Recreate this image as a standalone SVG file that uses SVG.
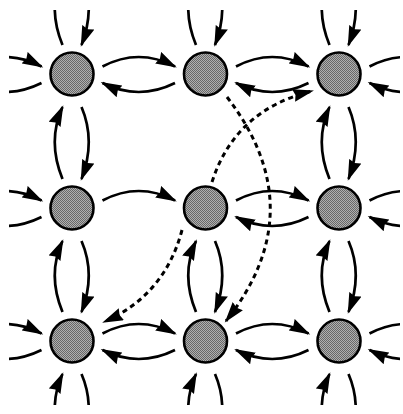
<svg xmlns="http://www.w3.org/2000/svg" width="403" height="414" viewBox="0 0 403 414">
<style>
.arc{fill:none;stroke:#000;stroke-width:2.7;marker-end:url(#ah)}
.dash{fill:none;stroke:#000;stroke-width:3;stroke-dasharray:5 4;marker-end:url(#ah)}
.node{fill:url(#dither);stroke:#000;stroke-width:2.6}
</style>
<defs>
<pattern id="dither" width="2" height="2" patternUnits="userSpaceOnUse">
<rect width="2" height="2" fill="#b0b0b0"/>
<rect width="1" height="1" fill="#686868"/>
<rect x="1" y="1" width="1" height="1" fill="#686868"/>
</pattern>
<marker id="ah" markerUnits="userSpaceOnUse" markerWidth="23" markerHeight="14" refX="19" refY="6.5" orient="auto" viewBox="0 0 23 14">
<path d="M0,0 L21,6.5 L0,13 L2,6.5 Z" fill="#000"/>
</marker>
<clipPath id="frame"><rect x="9" y="10" width="391" height="395"/></clipPath>
</defs>
<g id="connectors" clip-path="url(#frame)">
<path class="arc" d="M-31,66.5 Q5.25,47.5 41.5,66.5"/>
<path class="arc" d="M41.5,83 Q5.25,101 -31,83"/>
<path class="arc" d="M102.5,66.5 Q138.75,47.5 175,66.5"/>
<path class="arc" d="M175,83 Q138.75,101 102.5,83"/>
<path class="arc" d="M236,66.5 Q272.25,47.5 308.5,66.5"/>
<path class="arc" d="M308.5,83 Q272.25,101 236,83"/>
<path class="arc" d="M369.5,66.5 Q405.75,47.5 442,66.5"/>
<path class="arc" d="M442,83 Q405.75,101 369.5,83"/>
<path class="arc" d="M-31,200.5 Q5.25,181.5 41.5,200.5"/>
<path class="arc" d="M41.5,217 Q5.25,235 -31,217"/>
<path class="arc" d="M102.5,200.5 Q138.75,181.5 175,200.5"/>
<path class="arc" d="M236,200.5 Q272.25,181.5 308.5,200.5"/>
<path class="arc" d="M308.5,217 Q272.25,235 236,217"/>
<path class="arc" d="M369.5,200.5 Q405.75,181.5 442,200.5"/>
<path class="arc" d="M442,217 Q405.75,235 369.5,217"/>
<path class="arc" d="M-31,333.5 Q5.25,314.5 41.5,333.5"/>
<path class="arc" d="M41.5,350 Q5.25,368 -31,350"/>
<path class="arc" d="M102.5,333.5 Q138.75,314.5 175,333.5"/>
<path class="arc" d="M175,350 Q138.75,368 102.5,350"/>
<path class="arc" d="M236,333.5 Q272.25,314.5 308.5,333.5"/>
<path class="arc" d="M308.5,350 Q272.25,368 236,350"/>
<path class="arc" d="M369.5,333.5 Q405.75,314.5 442,333.5"/>
<path class="arc" d="M442,350 Q405.75,368 369.5,350"/>
<path class="arc" d="M81.5,-26.5 Q96,7.25 81.5,45"/>
<path class="arc" d="M62.5,45 Q47,7.25 62.5,-26.5"/>
<path class="arc" d="M81.5,107 Q96,141 81.5,179"/>
<path class="arc" d="M62.5,179 Q47,141 62.5,107"/>
<path class="arc" d="M81.5,241 Q96,274.5 81.5,312"/>
<path class="arc" d="M62.5,312 Q47,274.5 62.5,241"/>
<path class="arc" d="M81.5,374 Q96,407.75 81.5,445.5"/>
<path class="arc" d="M62.5,445.5 Q47,407.75 62.5,374"/>
<path class="arc" d="M215,-26.5 Q229.5,7.25 215,45"/>
<path class="arc" d="M196,45 Q180.5,7.25 196,-26.5"/>
<path class="arc" d="M215,241 Q229.5,274.5 215,312"/>
<path class="arc" d="M196,312 Q180.5,274.5 196,241"/>
<path class="arc" d="M215,374 Q229.5,407.75 215,445.5"/>
<path class="arc" d="M196,445.5 Q180.5,407.75 196,374"/>
<path class="arc" d="M348.5,-26.5 Q363,7.25 348.5,45"/>
<path class="arc" d="M329.5,45 Q314,7.25 329.5,-26.5"/>
<path class="arc" d="M348.5,107 Q363,141 348.5,179"/>
<path class="arc" d="M329.5,179 Q314,141 329.5,107"/>
<path class="arc" d="M348.5,241 Q363,274.5 348.5,312"/>
<path class="arc" d="M329.5,312 Q314,274.5 329.5,241"/>
<path class="arc" d="M348.5,374 Q363,407.75 348.5,445.5"/>
<path class="arc" d="M329.5,445.5 Q314,407.75 329.5,374"/>
<path class="dash" d="M227,97 Q314,210 226,321"/>
<path class="dash" d="M182,230 Q165,295 104,322"/>
<path class="dash" d="M212,182 Q235,110 312,91"/>
</g>
<g id="n00"><circle class="node" cx="72" cy="74" r="21.5"/></g>
<g id="n01"><circle class="node" cx="205.5" cy="74" r="21.5"/></g>
<g id="n02"><circle class="node" cx="339" cy="74" r="21.5"/></g>
<g id="n10"><circle class="node" cx="72" cy="208" r="21.5"/></g>
<g id="n11"><circle class="node" cx="205.5" cy="208" r="21.5"/></g>
<g id="n12"><circle class="node" cx="339" cy="208" r="21.5"/></g>
<g id="n20"><circle class="node" cx="72" cy="341" r="21.5"/></g>
<g id="n21"><circle class="node" cx="205.5" cy="341" r="21.5"/></g>
<g id="n22"><circle class="node" cx="339" cy="341" r="21.5"/></g>
</svg>
